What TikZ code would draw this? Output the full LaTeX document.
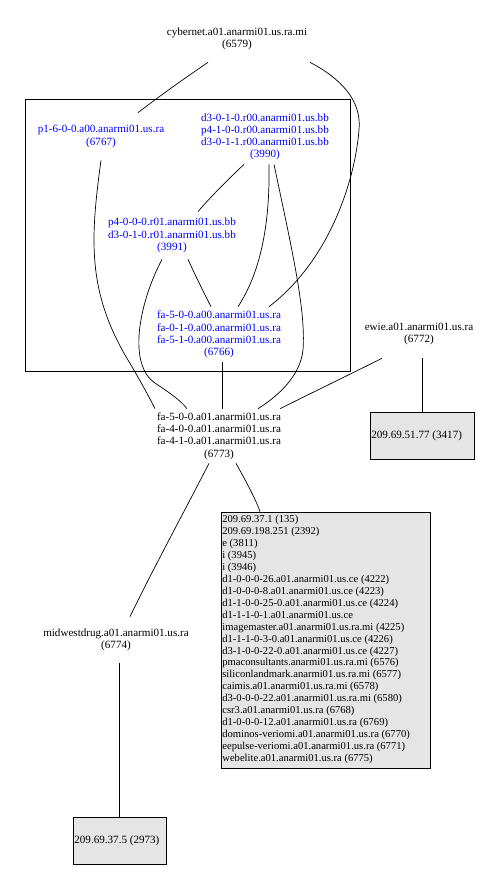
\documentclass[tikz,border=0pt]{standalone}
\usepackage{fontspec}
\setmainfont{Liberation Serif}
\begin{document}
\begin{tikzpicture}[x=1pt,y=-1pt,line width=0.7pt,
  lbl/.style={align=center,inner sep=0pt,font=\fontsize{11.1}{12.2}\selectfont},
  blu/.style={lbl,text=blue},
  gbox/.style={draw,fill=gray!20,inner sep=0pt,font=\fontsize{10.8}{12}\selectfont},
  conn/.style={draw,line width=0.7pt}]
\useasboundingbox (0,0) rectangle (494,878);
% cluster
\node[draw,minimum width=325,minimum height=272,inner sep=0pt] (cl) at (187.5,235) {};
% nodes
\node[lbl,minimum height=46] (cyb) at (237,39) {cybernet.a01.anarmi01.us.ra.mi\\(6579)};
\node[blu,minimum height=47] (p1) at (101,136.5) {p1-6-0-0.a00.anarmi01.us.ra\\(6767)};
\node[blu,minimum height=54] (n3990) at (265,137) {d3-0-1-0.r00.anarmi01.us.bb\\p4-1-0-0.r00.anarmi01.us.bb\\d3-0-1-1.r00.anarmi01.us.bb\\(3990)};
\node[blu,minimum height=47] (n3991) at (172,235.5) {p4-0-0-0.r01.anarmi01.us.bb\\d3-0-1-0.r01.anarmi01.us.bb\\(3991)};
\node[blu,minimum height=55] (n6766) at (219,334.5) {fa-5-0-0.a00.anarmi01.us.ra\\fa-0-1-0.a00.anarmi01.us.ra\\fa-5-1-0.a00.anarmi01.us.ra\\(6766)};
\node[lbl,minimum height=48] (ewie) at (419,334) {ewie.a01.anarmi01.us.ra\\(6772)};
\node[lbl,minimum height=54] (n6773) at (219,436) {fa-5-0-0.a01.anarmi01.us.ra\\fa-4-0-0.a01.anarmi01.us.ra\\fa-4-1-0.a01.anarmi01.us.ra\\(6773)};
\node[lbl,minimum height=46] (mid) at (116,640) {midwestdrug.a01.anarmi01.us.ra\\(6774)};
\node[gbox,minimum width=103.5,minimum height=47] (b3417) at (422.5,435.5) {};
\node[lbl,anchor=west] (t3417) at (371,435.5) {209.69.51.77 (3417)};
\node[gbox,minimum width=93,minimum height=47] (b2973) at (119.5,840.5) {};
\node[lbl,anchor=west] (t2973) at (74,840.5) {209.69.37.5 (2973)};
\node[gbox,minimum width=209,minimum height=256] (big) at (325.5,640) {};
\node[anchor=west,align=left,inner sep=0pt,font=\fontsize{10.6}{11.95}\selectfont] (bigtext) at (222,639.5) {209.69.37.1 (135)\\
209.69.198.251 (2392)\\
e (3811)\\
i (3945)\\
i (3946)\\
d1-0-0-0-26.a01.anarmi01.us.ce (4222)\\
d1-0-0-0-8.a01.anarmi01.us.ce (4223)\\
d1-1-0-0-25-0.a01.anarmi01.us.ce (4224)\\
d1-1-1-0-1.a01.anarmi01.us.ce\\
imagemaster.a01.anarmi01.us.ra.mi (4225)\\
d1-1-1-0-3-0.a01.anarmi01.us.ce (4226)\\
d3-1-0-0-22-0.a01.anarmi01.us.ce (4227)\\
pmaconsultants.anarmi01.us.ra.mi (6576)\\
siliconlandmark.anarmi01.us.ra.mi (6577)\\
caimis.a01.anarmi01.us.ra.mi (6578)\\
d3-0-0-0-22.a01.anarmi01.us.ra.mi (6580)\\
csr3.a01.anarmi01.us.ra (6768)\\
d1-0-0-0-12.a01.anarmi01.us.ra (6769)\\
dominos-veriomi.a01.anarmi01.us.ra (6770)\\
eepulse-veriomi.a01.anarmi01.us.ra (6771)\\
webelite.a01.anarmi01.us.ra (6775)};
% connectors
\draw[conn] ([xshift=-29]cyb.south) .. controls (188,76) and (165,92) .. ([xshift=37]p1.north);
\draw[conn] ([xshift=73]cyb.south) .. controls (340,78) and (362,100) .. (359,130) .. controls (355,180) and (330,260) .. ([xshift=50]n6766.north);
\draw[conn] ([xshift=0]p1.south) .. controls (90,240) and (88,290) .. (125,355) .. controls (140,380) and (148,395) .. ([xshift=-64]n6773.north);
\draw[conn] ([xshift=-10]n3991.south) .. controls (138,305) and (128,365) .. (155,383) .. controls (170,393) and (180,400) .. ([xshift=-32]n6773.north);
\draw[conn] ([xshift=-21]n3990.south) .. controls (236,172) and (210,197) .. ([xshift=26]n3991.north);
\draw[conn] ([xshift=4]n3990.south) .. controls (270,220) and (262,270) .. ([xshift=19]n6766.north);
\draw[conn] ([xshift=9]n3990.south) .. controls (292,250) and (306,310) .. (303,350) .. controls (300,378) and (275,398) .. ([xshift=39]n6773.north);
\draw[conn] ([xshift=16]n3991.south) .. controls (196,277) and (205,295) .. ([xshift=-8]n6766.north);
\draw[conn] ([xshift=3.5]n6766.south) -- ([xshift=3.5]n6773.north);
\draw[conn] ([xshift=-37]ewie.south) -- ([xshift=61]n6773.north);
\draw[conn] ([xshift=3.5]ewie.south) -- (b3417.north);
\draw[conn] ([xshift=-10]n6773.south) .. controls (185,510) and (150,575) .. ([xshift=14]mid.north);
\draw[conn] ([xshift=17]n6773.south) .. controls (248,485) and (256,500) .. ([xshift=-65.5]big.north);
\draw[conn] ([xshift=3.5]mid.south) -- (b2973.north);
\end{tikzpicture}
\end{document}
